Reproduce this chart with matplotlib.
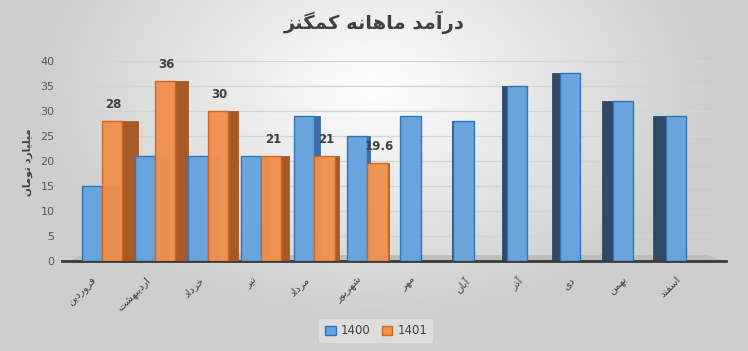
import numpy as np
import matplotlib
matplotlib.use("Agg")
import matplotlib.pyplot as plt
import matplotlib.transforms as mtransforms
from matplotlib.patches import Patch, Polygon

# ---------------- data ----------------
months = ["فروردین", "اردیبهشت", "خرداد", "تیر", "مرداد", "شهریور",
          "مهر", "آبان", "آذر", "دی", "بهمن", "اسفند"]
series_names = ["1400", "1401"]
values_1400 = [15, 21, 21, 21, 29, 25, 29, 28, 35, 37.7, 32, 29]
values_1401 = [28, 36, 30, 21, 21, 19.6, np.nan, np.nan, np.nan, np.nan, np.nan, np.nan]
title_text = "درآمد ماهانه کمگنز"
ylabel_text = "میلیارد تومان"
yticks = [0, 5, 10, 15, 20, 25, 30, 35, 40]

# ------------- simple Persian shaping (matplotlib has no shaping) -------------
FORMS = {
    'ا': ('\uFE8D', '\uFE8E', None, None),
    'آ': ('\uFE81', '\uFE82', None, None),
    'د': ('\uFEA9', '\uFEAA', None, None),
    'ذ': ('\uFEAB', '\uFEAC', None, None),
    'ر': ('\uFEAD', '\uFEAE', None, None),
    'ز': ('\uFEAF', '\uFEB0', None, None),
    'و': ('\uFEED', '\uFEEE', None, None),
    'ب': ('\uFE8F', '\uFE90', '\uFE91', '\uFE92'),
    'ت': ('\uFE95', '\uFE96', '\uFE97', '\uFE98'),
    'خ': ('\uFEA5', '\uFEA6', '\uFEA7', '\uFEA8'),
    'س': ('\uFEB1', '\uFEB2', '\uFEB3', '\uFEB4'),
    'ش': ('\uFEB5', '\uFEB6', '\uFEB7', '\uFEB8'),
    'ف': ('\uFED1', '\uFED2', '\uFED3', '\uFED4'),
    '\u06A9': ('\uFB8E', '\uFB8F', '\uFB90', '\uFB91'),
    'گ': ('\uFB92', '\uFB93', '\uFB94', '\uFB95'),
    'ل': ('\uFEDD', '\uFEDE', '\uFEDF', '\uFEE0'),
    'م': ('\uFEE1', '\uFEE2', '\uFEE3', '\uFEE4'),
    'ن': ('\uFEE5', '\uFEE6', '\uFEE7', '\uFEE8'),
    'ه': ('\uFEE9', '\uFEEA', '\uFEEB', '\uFEEC'),
    '\u06CC': ('\uFBFC', '\uFBFD', '\uFBFE', '\uFBFF'),
}


def shape(text):
    text = text.replace('\u064A', '\u06CC').replace('\u0643', '\u06A9')
    chars = list(text)
    out = []
    for i, c in enumerate(chars):
        if c not in FORMS:
            out.append(c)
            continue
        f = FORMS[c]
        prev = chars[i - 1] if i > 0 else None
        nxt = chars[i + 1] if i + 1 < len(chars) else None
        jp = prev in FORMS and FORMS[prev][2] is not None
        jn = f[2] is not None and nxt in FORMS
        if jp and jn:
            out.append(f[3])
        elif jp:
            out.append(f[1])
        elif jn:
            out.append(f[2])
        else:
            out.append(f[0])
    return ''.join(reversed(out))


plt.rcParams['font.family'] = ['DejaVu Sans']

W, H = 748, 351
fig = plt.figure(figsize=(W / 100, H / 100), dpi=100)

# background gradient
bg = fig.add_axes([0, 0, 1, 1], zorder=-10)
yy, xx = np.mgrid[0:1:200j, 0:1:400j]
d = np.sqrt(((xx - 0.5) / 0.75) ** 2 + ((yy - 0.25) / 1.1) ** 2)
val = np.clip(1.0 - 0.32 * d, 0.81, 1.0)
bg.imshow(np.dstack([val, val, val]), aspect='auto', extent=[0, 1, 0, 1], origin='upper')
bg.set_axis_off()

ax = fig.add_axes([75.5 / W, 1 - 261 / H, 637 / W, 200 / H])
ax.set_facecolor('none')

x = np.arange(len(months))
bw = 0.38
off = 0.19
vp = (390 - 75.5) / 53.1  # vanishing x (data units)

blue_face, blue_edge = '#66a3de', '#2e75b6'
blue_side_l, blue_side_r = '#3c6ca3', '#2f4a68'
orng_face, orng_edge, orng_side = '#f0914f', '#d0651c', '#a65a28'

for vals, dx, face, edge, side_l, side_r, z in [
        (values_1400, -off, blue_face, blue_edge, blue_side_l, blue_side_r, 4),
        (values_1401, off, orng_face, orng_edge, orng_side, orng_side, 5)]:
    vals = np.asarray(vals, dtype=float)
    centers = x + dx
    for xc, v in zip(centers, vals):
        if np.isnan(v):
            continue
        le, re = xc - bw / 2, xc + bw / 2
        if re < vp:
            sw = (vp - re) / 19
            ax.bar(re + sw / 2, v, width=sw, color=side_l, edgecolor=side_l, lw=0.6, zorder=z - 2)
        elif le > vp:
            sw = (le - vp) / 19
            ax.bar(le - sw / 2, v, width=sw, color=side_r, edgecolor=side_r, lw=0.6, zorder=z - 2)
    ax.bar(centers, vals, width=bw, color=face, edgecolor=edge, lw=1.0, zorder=z, alpha=0.97)

# data labels for 1401
for xi, v in zip(x, values_1401):
    if np.isnan(v):
        continue
    ax.annotate(f"{v:g}", (xi + off, v), xytext=(1, 7), textcoords='offset points',
                ha='center', va='bottom', fontsize=8.5, fontweight='bold', color='#404040', zorder=10)

# floor
floor = Polygon([(-0.01, 0.0), (1.02, 0.0), (0.99, 0.03), (0.01, 0.03)],
                closed=True, transform=ax.transAxes, facecolor='#bdbdbd', edgecolor='none',
                zorder=0.5, clip_on=False)
ax.add_patch(floor)

ax.set_xlim(-0.5, len(months) - 0.5)
ax.set_ylim(0, 40)
ax.set_yticks(yticks)
ax.set_yticklabels([str(t) for t in yticks], fontsize=8, color='#595959')
ax.yaxis.grid(True, color='#d4d4d4', lw=0.9, zorder=0)
ax.set_axisbelow(True)
ax.tick_params(axis='y', length=0, pad=15)
ax.tick_params(axis='x', length=0, pad=10)
ax.set_xticks(x)
ax.set_xticklabels([shape(m) for m in months], rotation=45, ha='right', va='top',
                   rotation_mode='anchor', fontsize=7.5, color='#404040')
shift = mtransforms.ScaledTranslation(-10 / 100, 0, fig.dpi_scale_trans)
for lbl in ax.get_xticklabels():
    lbl.set_transform(lbl.get_transform() + shift)
for s in ['left', 'right', 'top']:
    ax.spines[s].set_visible(False)
ax.spines['bottom'].set_color('#3a3a3a')
ax.spines['bottom'].set_linewidth(2)
ax.spines['bottom'].set_bounds(-0.75, 11.75)

fig.text(0.5, 1 - 22 / H, shape(title_text), ha='center', va='center', fontsize=14,
         fontweight='bold', color='#404040')
fig.text(28 / W, 1 - 162 / H, shape(ylabel_text), ha='center', va='center', rotation=90,
         fontsize=7.5, fontweight='bold', color='#404040')

handles = [Patch(facecolor=blue_face, edgecolor=blue_edge, label=series_names[0]),
           Patch(facecolor=orng_face, edgecolor=orng_edge, label=series_names[1])]
leg = fig.legend(handles=handles, loc='center', bbox_to_anchor=(376 / W, 1 - 331 / H), ncol=2,
                 fontsize=8.5, frameon=True, handlelength=0.9, handleheight=0.9,
                 columnspacing=1.0, handletextpad=0.4, borderpad=0.5)
leg.get_frame().set_facecolor('#e2e2e2')
leg.get_frame().set_edgecolor('none')
for t in leg.get_texts():
    t.set_color('#404040')

fig.savefig('out.png', dpi=100)
